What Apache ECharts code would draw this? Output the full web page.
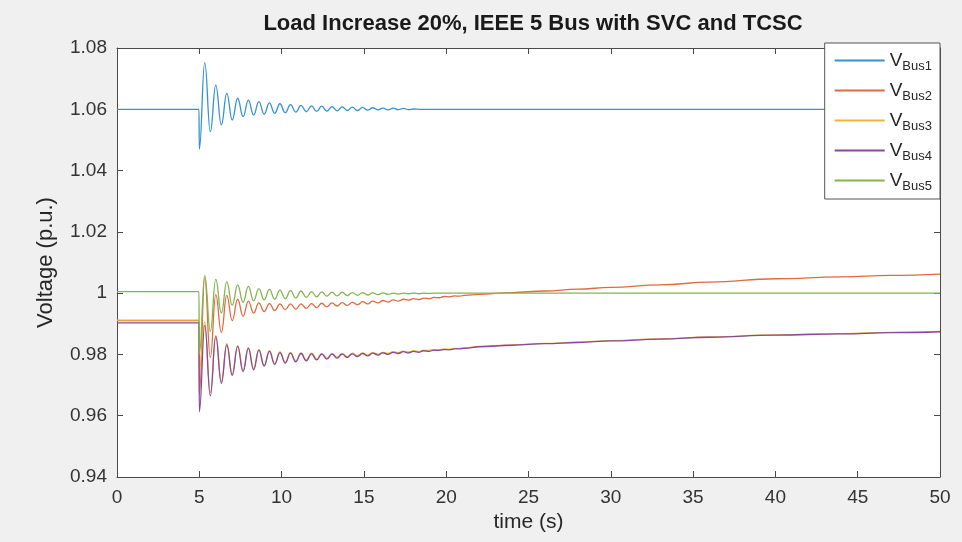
<!DOCTYPE html>
<html>
<head>
<meta charset="utf-8">
<script src="https://cdn.jsdelivr.net/npm/echarts@6/dist/echarts.min.js"></script>
<style>
  html, body { margin: 0; padding: 0; background: #f0f0f0; }
  #chart { width: 962px; height: 542px; }
</style>
</head>
<body>
<div id="chart"></div>
<script>
// sample times (s): steady state, then peaks/troughs of the swing, then the slow recovery
const time = [
  0, 4.98,
  5.00, 5.33, 5.67, 6.00, 6.34, 6.67, 7.00, 7.33, 7.66, 7.98,
  8.30, 8.62, 8.94, 9.26, 9.58, 9.90, 10.22, 10.54, 10.86, 11.18,
  11.50, 11.82, 12.13, 12.44, 12.75, 13.06, 13.37, 13.68, 13.99, 14.30,
  14.61, 14.92, 15.23, 15.54, 15.85, 16.16, 16.47, 16.78, 17.09, 17.40,
  17.71, 18.02, 18.33, 18.64, 18.95, 19.26, 19.57, 19.88, 20.19, 20.50,
  20.81, 21.12,
  22, 24, 26, 28, 30, 33, 36, 40, 44, 47, 50
];

const vBus1 = [
  1.0600, 1.0600,
  1.0470, 1.0752, 1.0527, 1.0679, 1.0549, 1.0652, 1.0565, 1.0636, 1.0576, 1.0630,
  1.0581, 1.0625, 1.0584, 1.0621, 1.0587, 1.0618, 1.0589, 1.0615, 1.0591, 1.0613,
  1.0592, 1.0611, 1.0593, 1.0610, 1.0594, 1.0609, 1.0595, 1.0608, 1.0596, 1.0607,
  1.0596, 1.0606, 1.0597, 1.0605, 1.0598, 1.0604, 1.0598, 1.0604, 1.0599, 1.0603,
  1.0599, 1.0601, 1.0600, 1.0600, 1.0600, 1.0600, 1.0600, 1.0600, 1.0600, 1.0600,
  1.0600, 1.0600,
  1.0600, 1.0600, 1.0600, 1.0600, 1.0600, 1.0600, 1.0600, 1.0600, 1.0600, 1.0600, 1.0600
];

const vBus2 = [
  0.9910, 0.9910,
  0.9670, 1.0050, 0.9790, 0.9995, 0.9872, 0.9993, 0.9910, 0.9980, 0.9925, 0.9974,
  0.9935, 0.9968, 0.9940, 0.9966, 0.9943, 0.9965, 0.9946, 0.9965, 0.9948, 0.9965,
  0.9950, 0.9966, 0.9953, 0.9967, 0.9955, 0.9968, 0.9958, 0.9969, 0.9960, 0.9970,
  0.9962, 0.9972, 0.9965, 0.9974, 0.9968, 0.9976, 0.9971, 0.9978, 0.9974, 0.9980,
  0.9977, 0.9982, 0.9979, 0.9984, 0.9982, 0.9986, 0.9985, 0.9989, 0.9988, 0.9991,
  0.9990, 0.9993,
  0.9996, 1.0002, 1.0007, 1.0013, 1.0019, 1.0027, 1.0036, 1.0047, 1.0053, 1.0058, 1.0062
];

const vBus3 = [
  0.9912, 0.9912,
  0.9750, 0.9905, 0.9675, 0.9862, 0.9712, 0.9835, 0.9736, 0.9829, 0.9748, 0.9822,
  0.9754, 0.9816, 0.9765, 0.9812, 0.9771, 0.9808, 0.9775, 0.9806, 0.9779, 0.9805,
  0.9782, 0.9804, 0.9785, 0.9803, 0.9788, 0.9803, 0.9791, 0.9803, 0.9793, 0.9804,
  0.9796, 0.9805, 0.9798, 0.9806, 0.9801, 0.9807, 0.9803, 0.9809, 0.9806, 0.9811,
  0.9808, 0.9812, 0.9810, 0.9814, 0.9813, 0.9816, 0.9815, 0.9818, 0.9817, 0.9820,
  0.9820, 0.9822,
  0.9826, 0.9831, 0.9836, 0.9840, 0.9845, 0.9851, 0.9857, 0.9864, 0.9868, 0.9872, 0.9875
];

const vBus4 = [
  0.9903, 0.9903,
  0.9613, 0.9895, 0.9665, 0.9858, 0.9706, 0.9831, 0.9732, 0.9826, 0.9744, 0.9820,
  0.9750, 0.9814, 0.9762, 0.9810, 0.9768, 0.9806, 0.9772, 0.9804, 0.9776, 0.9803,
  0.9779, 0.9802, 0.9782, 0.9801, 0.9785, 0.9801, 0.9788, 0.9801, 0.9790, 0.9802,
  0.9793, 0.9803, 0.9795, 0.9804, 0.9798, 0.9805, 0.9800, 0.9807, 0.9803, 0.9809,
  0.9805, 0.9810, 0.9807, 0.9812, 0.9810, 0.9814, 0.9813, 0.9816, 0.9815, 0.9818,
  0.9818, 0.9820,
  0.9825, 0.9830, 0.9835, 0.9839, 0.9844, 0.9850, 0.9856, 0.9863, 0.9867, 0.9871, 0.9874
];

const vBus5 = [
  1.0005, 1.0005,
  0.9800, 1.0058, 0.9875, 1.0045, 0.9935, 1.0037, 0.9960, 1.0027, 0.9970, 1.0022,
  0.9975, 1.0015, 0.9978, 1.0012, 0.9980, 1.0010, 0.9982, 1.0008, 0.9984, 1.0007,
  0.9986, 1.0005, 0.9988, 1.0004, 0.9990, 1.0003, 0.9991, 1.0003, 0.9992, 1.0002,
  0.9993, 1.0002, 0.9994, 1.0001, 0.9995, 1.0001, 0.9996, 1.0000, 0.9997, 1.0000,
  0.9998, 1.0000, 0.9998, 1.0000, 0.9999, 1.0000, 1.0000, 1.0000, 1.0000, 1.0000,
  1.0000, 1.0000,
  1.0000, 1.0000, 1.0000, 1.0000, 1.0000, 1.0000, 1.0000, 1.0000, 1.0000, 1.0000, 1.0000
];

const busNames = ['Bus1', 'Bus2', 'Bus3', 'Bus4', 'Bus5'];
const busValues = [vBus1, vBus2, vBus3, vBus4, vBus5];
const busColors = ['#3493d2', '#e06a40', '#efb432', '#874a9a', '#82b64c'];

const xTicks = { min: 0, max: 50, interval: 5 };
const yTicks = { min: 0.94, max: 1.08, interval: 0.02 };

const FONT = "'Liberation Sans', Arial, sans-serif";
const AXIS_COLOR = '#4a4a4a';

const chart = echarts.init(document.getElementById('chart'));

const gridBox = { left: 117, right: 22, top: 48, bottom: 65 };

const boxAxis = (extra) => Object.assign({
    type: 'value',
    axisLine: { show: true, onZero: false, lineStyle: { color: AXIS_COLOR, width: 1 } },
    axisTick: { show: true, inside: true, length: 6, lineStyle: { color: AXIS_COLOR } },
    splitLine: { show: false }
}, extra);

const option = {
    animation: false,
    backgroundColor: '#f0f0f0',
    title: {
        text: 'Load Increase 20%, IEEE 5 Bus with SVC and TCSC',
        left: 528, top: 8, textAlign: 'center',
        textStyle: { fontFamily: FONT, fontSize: 22, fontWeight: 'bold', color: '#1a1a1a' }
    },
    grid: Object.assign({ show: true, backgroundColor: '#ffffff', borderWidth: 0 }, gridBox),
    legend: {
        orient: 'vertical',
        right: 22, top: 43,
        backgroundColor: '#ffffff',
        borderColor: '#555555', borderWidth: 1, borderRadius: 0,
        padding: [8, 8, 6, 10],
        icon: 'rect',
        itemWidth: 50, itemHeight: 2, itemGap: 8,
        data: busNames,
        formatter: (name) => '{v|V}{s|' + name + '}',
        textStyle: {
            fontFamily: FONT, color: '#262626',
            rich: {
                v: { fontFamily: FONT, fontSize: 19, color: '#262626' },
                s: { fontFamily: FONT, fontSize: 13, color: '#262626', padding: [12, 0, 0, 0] }
            }
        }
    },
    xAxis: [
        boxAxis(Object.assign({
            position: 'bottom',
            name: 'time (s)', nameLocation: 'middle', nameGap: 34,
            nameTextStyle: { fontFamily: FONT, fontSize: 21, color: '#262626' },
            axisLabel: { fontFamily: FONT, fontSize: 19, color: '#333333', margin: 11 }
        }, xTicks)),
        boxAxis(Object.assign({ position: 'top', axisLabel: { show: false } }, xTicks))
    ],
    yAxis: [
        boxAxis(Object.assign({
            position: 'left',
            name: 'Voltage (p.u.)', nameLocation: 'middle', nameGap: 60,
            nameTextStyle: { fontFamily: FONT, fontSize: 22, color: '#262626' },
            axisLabel: {
                fontFamily: FONT, fontSize: 19, color: '#333333', margin: 10,
                formatter: (v) => String(parseFloat(v.toFixed(2)))
            }
        }, yTicks)),
        boxAxis(Object.assign({ position: 'right', axisLabel: { show: false } }, yTicks))
    ],
    series: busNames.map((name, k) => ({
        name: name,
        type: 'line',
        xAxisIndex: 0,
        yAxisIndex: 0,
        data: time.map((t, i) => [t, busValues[k][i]]),
        symbol: 'none',
        smooth: 0.45,
        smoothMonotone: 'x',
        color: busColors[k],
        lineStyle: { width: 1.3, color: busColors[k] }
    }))
};

chart.setOption(option);
</script>
</body>
</html>
